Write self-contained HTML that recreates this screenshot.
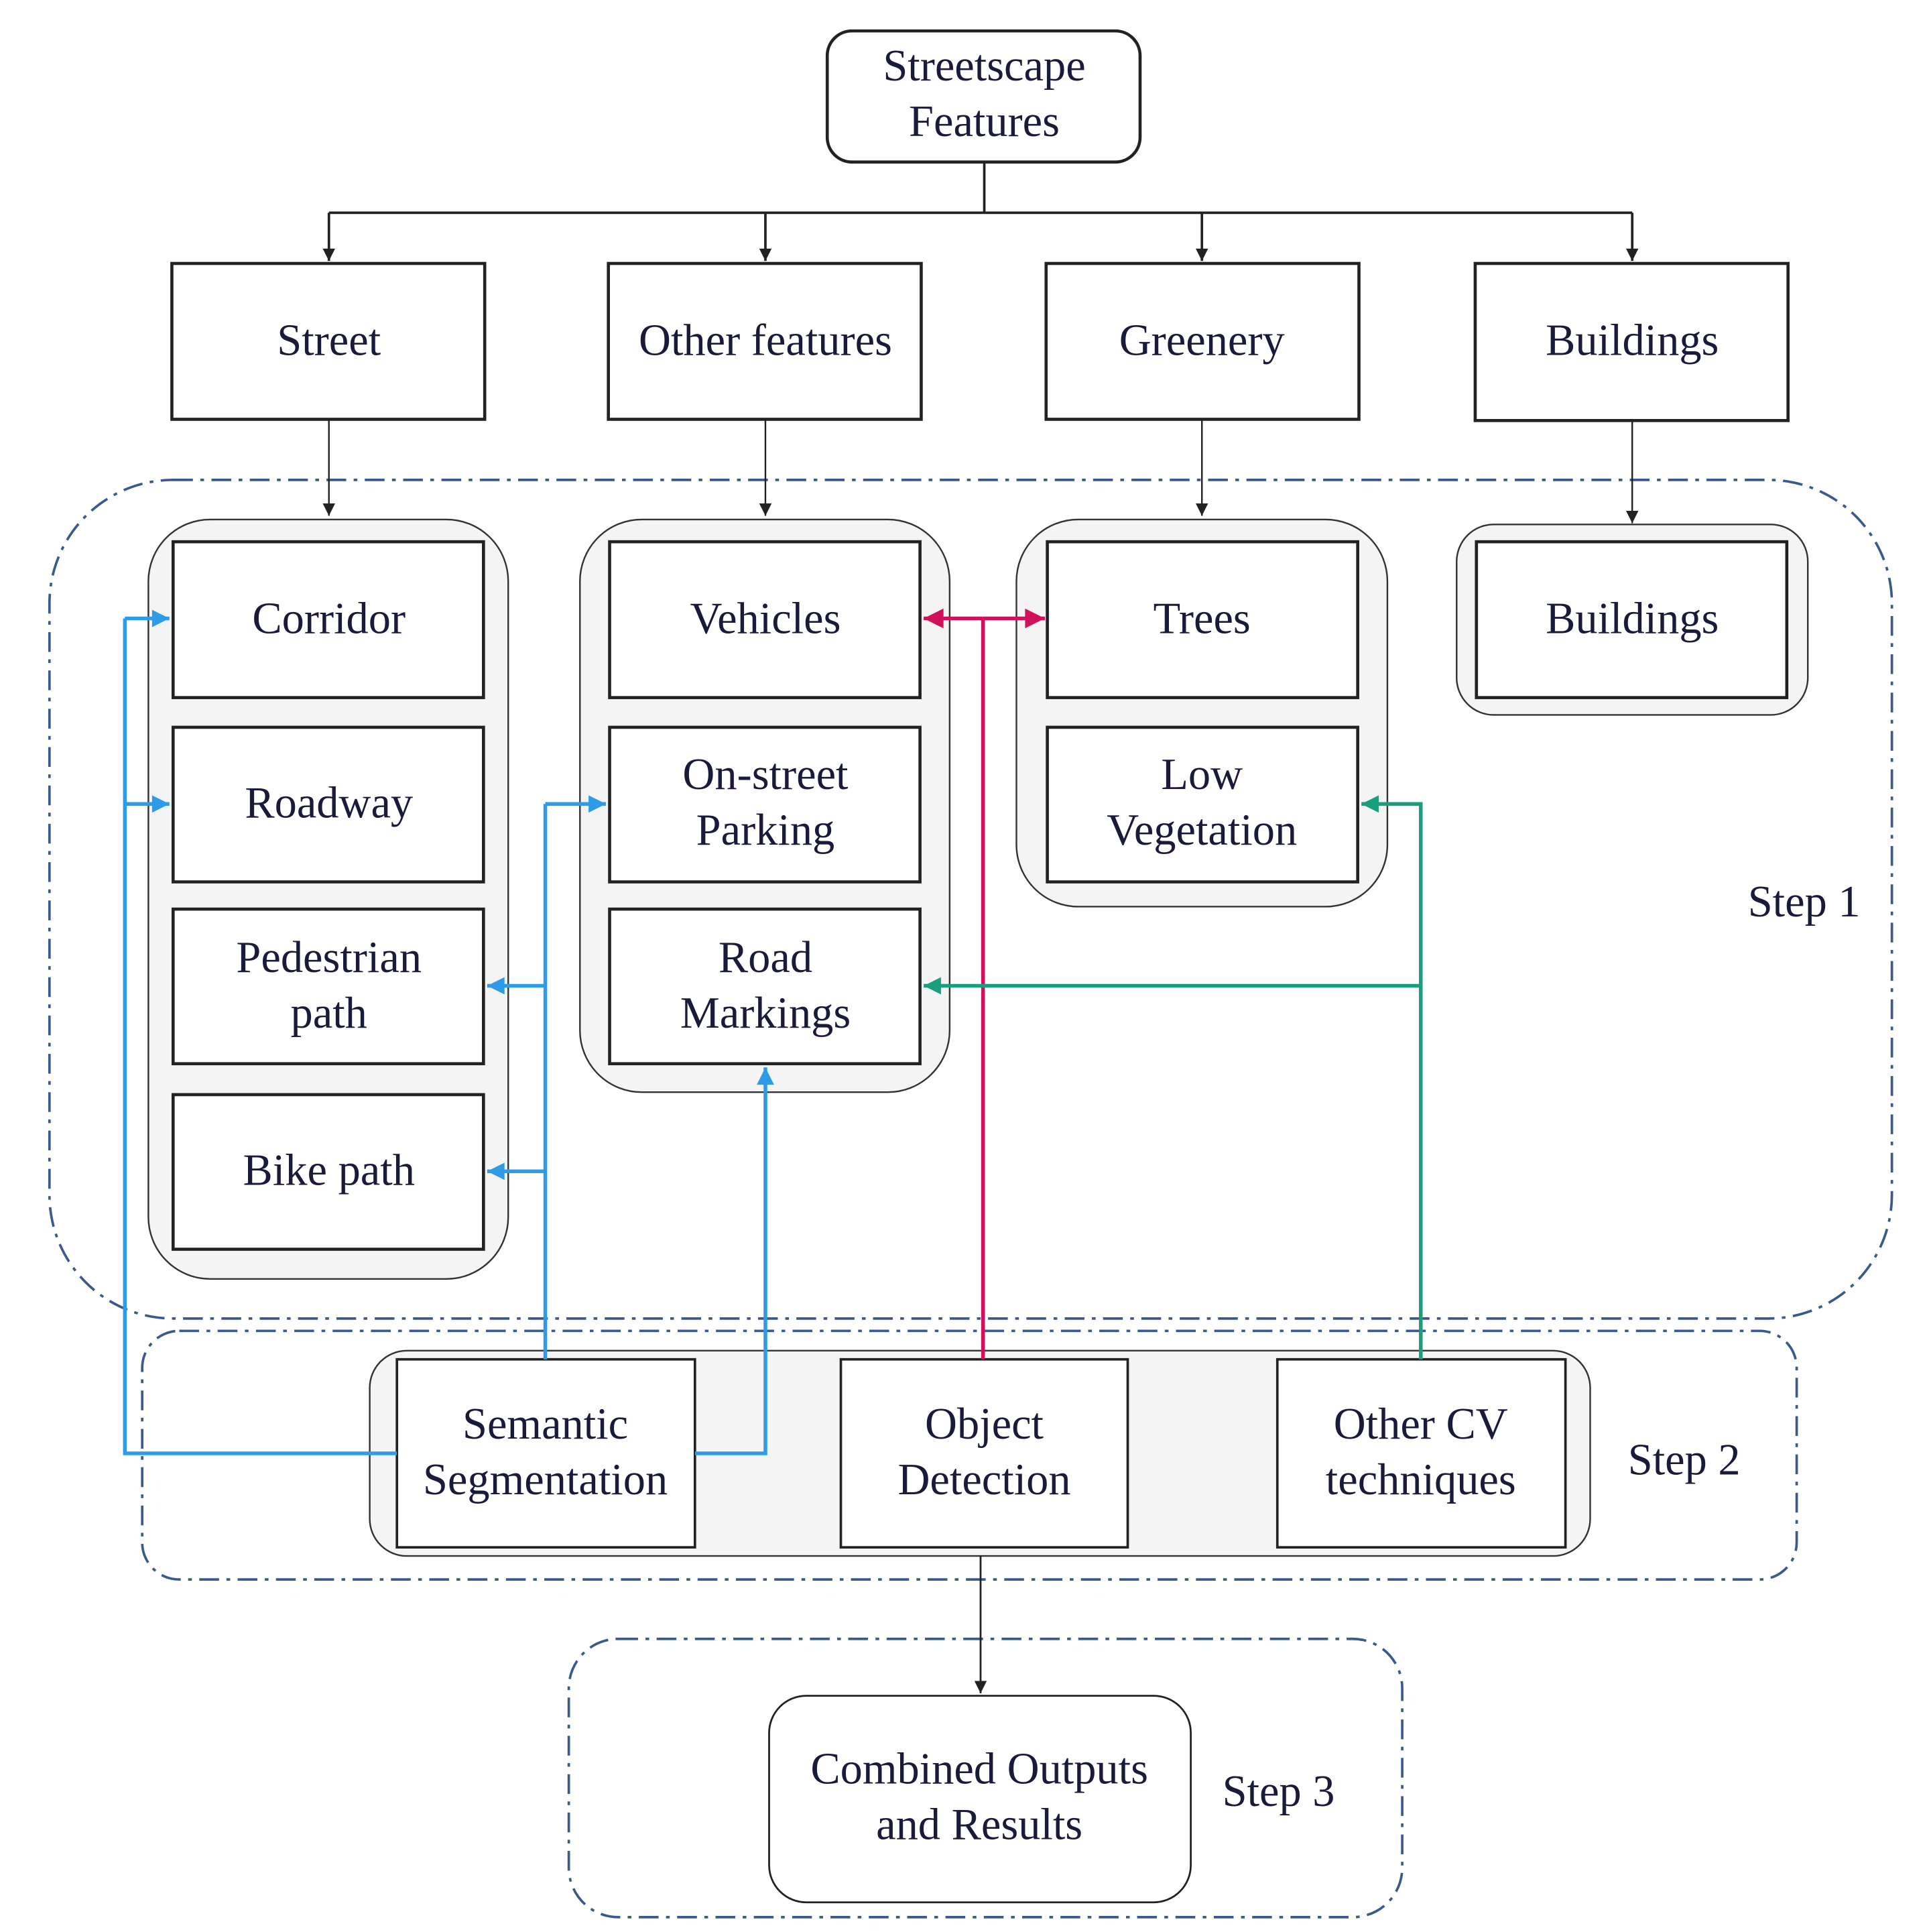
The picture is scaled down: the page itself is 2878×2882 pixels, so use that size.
<!DOCTYPE html>
<html><head><meta charset="utf-8"><style>html,body{margin:0;padding:0;background:#fff}svg{display:block}text{font-family:"Liberation Serif","Times New Roman",serif}</style></head>
<body>
<svg width="2878" height="2882" viewBox="0 0 1560 1562" preserveAspectRatio="none" xmlns="http://www.w3.org/2000/svg">
<defs>
<marker id="ak" viewBox="0 0 10 10" refX="10" refY="5" markerWidth="18" markerHeight="10" markerUnits="userSpaceOnUse" orient="auto"><path d="M0,0 L10,5 L0,10 z" fill="#222"/></marker>
<marker id="ab" viewBox="0 0 10 10" refX="10" refY="5" markerWidth="20" markerHeight="14" markerUnits="userSpaceOnUse" orient="auto"><path d="M0,0 L10,5 L0,10 z" fill="#2e9be6"/></marker>
<marker id="am" viewBox="0 0 10 10" refX="10" refY="5" markerWidth="22" markerHeight="16" markerUnits="userSpaceOnUse" orient="auto"><path d="M0,0 L10,5 L0,10 z" fill="#d0105a"/></marker>
<marker id="ag" viewBox="0 0 10 10" refX="10" refY="5" markerWidth="20" markerHeight="14" markerUnits="userSpaceOnUse" orient="auto"><path d="M0,0 L10,5 L0,10 z" fill="#1a9e7e"/></marker>
</defs>
<g font-family="'Liberation Serif', serif" font-size="36" fill="#1a1a3a" text-anchor="middle">
<g fill="none" stroke="#3a5a8e" stroke-width="2" stroke-dasharray="16,6,3,6">
<rect x="40" y="388" width="1490" height="678" rx="100"/>
<rect x="115" y="1076" width="1338" height="201" rx="30"/>
<rect x="460" y="1325" width="674" height="225" rx="40"/>
</g>
<rect x="669" y="25" width="253" height="106" rx="20" fill="#fff" stroke="#222" stroke-width="2.5"/>
<text x="796" y="65">Streetscape</text><text x="796" y="110">Features</text>
<g stroke="#222" stroke-width="2" fill="none">
<path d="M796 131 V172 M266 172 H1320"/>
<path d="M266 172 V211" marker-end="url(#ak)"/><path d="M619 172 V211" marker-end="url(#ak)"/>
<path d="M972 172 V211" marker-end="url(#ak)"/><path d="M1320 172 V211" marker-end="url(#ak)"/>
</g>
<g fill="#fff" stroke="#222" stroke-width="2.5">
<rect x="139" y="213" width="253" height="126"/><rect x="492" y="213" width="253" height="126"/>
<rect x="846" y="213" width="253" height="126"/><rect x="1193" y="213" width="253" height="127"/>
</g>
<text x="266" y="287">Street</text><text x="619" y="287">Other features</text>
<text x="972" y="287">Greenery</text><text x="1320" y="287">Buildings</text>
<g stroke="#222" stroke-width="1.3" fill="none">
<path d="M266 339 V417" marker-end="url(#ak)"/><path d="M619 339 V417" marker-end="url(#ak)"/>
<path d="M972 339 V417" marker-end="url(#ak)"/><path d="M1320 340 V423" marker-end="url(#ak)"/>
</g>
<g fill="#f4f4f4" stroke="#333" stroke-width="1.3">
<rect x="120" y="420" width="291" height="614" rx="50"/>
<rect x="469" y="420" width="299" height="463" rx="50"/>
<rect x="822" y="420" width="300" height="313" rx="50"/>
<rect x="1178" y="424" width="284" height="154" rx="30"/>
<rect x="299" y="1092" width="987" height="166" rx="30"/>
</g>
<g fill="#fff" stroke="#222" stroke-width="2.5">
<rect x="140" y="438" width="251" height="126"/><rect x="140" y="588" width="251" height="125"/>
<rect x="140" y="735" width="251" height="125"/><rect x="140" y="885" width="251" height="125"/>
<rect x="493" y="438" width="251" height="126"/><rect x="493" y="588" width="251" height="125"/>
<rect x="493" y="735" width="251" height="125"/>
<rect x="847" y="438" width="251" height="126"/><rect x="847" y="588" width="251" height="125"/>
<rect x="1194" y="438" width="251" height="126"/>
<rect x="321" y="1099" width="241" height="152" stroke-width="2"/>
<rect x="680" y="1099" width="232" height="152" stroke-width="2"/>
<rect x="1033" y="1099" width="233" height="152" stroke-width="2"/>
</g>
<text x="266" y="512">Corridor</text><text x="266" y="661">Roadway</text>
<text x="266" y="786">Pedestrian</text><text x="266" y="831">path</text>
<text x="266" y="958">Bike path</text>
<text x="619" y="512">Vehicles</text>
<text x="619" y="638">On-street</text><text x="619" y="683">Parking</text>
<text x="619" y="786">Road</text><text x="619" y="831">Markings</text>
<text x="972" y="512">Trees</text>
<text x="972" y="638">Low</text><text x="972" y="683">Vegetation</text>
<text x="1320" y="512">Buildings</text>
<text x="441" y="1163">Semantic</text><text x="441" y="1208">Segmentation</text>
<text x="796" y="1163">Object</text><text x="796" y="1208">Detection</text>
<text x="1149" y="1163">Other CV</text><text x="1149" y="1208">techniques</text>
<text x="1459" y="741">Step 1</text><text x="1362" y="1192">Step 2</text><text x="1034" y="1460">Step 3</text>
<path d="M793 1258 V1369" stroke="#222" stroke-width="1.5" fill="none" marker-end="url(#ak)"/>
<rect x="622" y="1371" width="341" height="167" rx="30" fill="#fff" stroke="#222" stroke-width="1.5"/>
<text x="792" y="1442">Combined Outputs</text><text x="792" y="1487">and Results</text>
<g stroke="#2e9be6" stroke-width="3" fill="none">
<path d="M321 1175 H101 V500"/>
<path d="M101 500 H137" marker-end="url(#ab)"/><path d="M101 650 H137" marker-end="url(#ab)"/>
<path d="M441 1099 V650"/><path d="M441 650 H490" marker-end="url(#ab)"/>
<path d="M441 797 H394" marker-end="url(#ab)"/><path d="M441 947 H394" marker-end="url(#ab)"/>
<path d="M562 1175 H619 V863" marker-end="url(#ab)"/>
</g>
<g stroke="#d0105a" stroke-width="3" fill="none">
<path d="M795 1099 V500"/>
<path d="M795 500 H747" marker-end="url(#am)"/><path d="M795 500 H845" marker-end="url(#am)"/>
</g>
<g stroke="#1a9e7e" stroke-width="3" fill="none">
<path d="M1149 1099 V650 H1101" marker-end="url(#ag)"/>
<path d="M1149 797 H747" marker-end="url(#ag)"/>
</g>
</g>
</svg>
</body></html>
